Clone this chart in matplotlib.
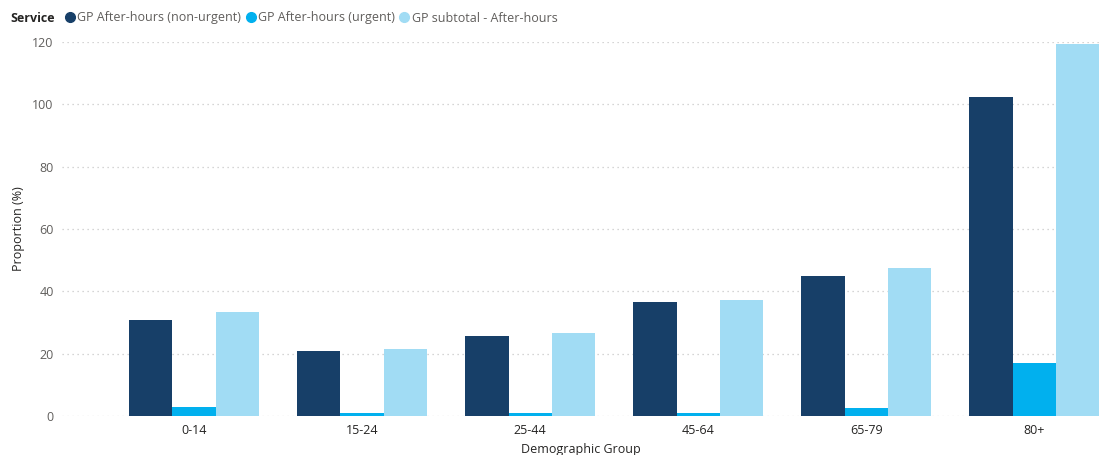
import numpy as np
import matplotlib.pyplot as plt
from matplotlib.lines import Line2D

plt.rcParams['font.family'] = ['Open Sans', 'DejaVu Sans']

groups = ['0-14', '15-24', '25-44', '45-64', '65-79', '80+']
series = ['GP After-hours (non-urgent)', 'GP After-hours (urgent)', 'GP subtotal - After-hours']
non_urgent = [30.8, 20.9, 25.7, 36.6, 44.9, 102.2]
urgent = [2.9, 1.0, 1.1, 1.1, 2.6, 17.1]
subtotal = [33.4, 21.5, 26.6, 37.2, 47.5, 119.3]
colors = ['#173F68', '#01B0EE', '#A1DCF4']

fig = plt.figure(figsize=(11.15, 4.55), dpi=100)
ax = fig.add_axes([62 / 1115, 39 / 455, (1100 - 62) / 1115, (416 - 42) / 455])

x = np.arange(len(groups))
w = 0.258
for i, (vals, c) in enumerate(zip([non_urgent, urgent, subtotal], colors)):
    ax.bar(x + (i - 1) * w, vals, width=w, color=c, label=series[i], zorder=3)

ax.set_ylim(0, 120)
ax.set_xlim(-0.786, 5.39)
ax.set_yticks(range(0, 121, 20))
ax.set_xticks(x)
ax.set_xticklabels(groups)
ax.yaxis.grid(True, linestyle=(0, (1, 3)), color='#C8C8C8', linewidth=0.9, zorder=0)
for s in ax.spines.values():
    s.set_visible(False)
ax.tick_params(length=0, labelsize=9, colors='#605E5C', pad=6)
ax.tick_params(axis='x', colors='#252423')
ax.set_ylabel('Proportion (%)', fontsize=9, color='#252423')
ax.yaxis.set_label_coords(-37 / 1038, 0.5)
ax.set_xlabel('Demographic Group', fontsize=9, color='#252423', labelpad=4)

# legend row at the top
fig.text(10 / 1115, 1 - 18 / 455, 'Service', fontsize=9, fontweight='bold',
         color='#252423', va='center')
handles = [Line2D([], [], marker='o', linestyle='', markersize=7, color=c) for c in colors]
fig.legend(handles, series, loc='center left', bbox_to_anchor=(58 / 1115, 1 - 18 / 455),
           ncol=3, frameon=False, fontsize=9, handletextpad=0.15, columnspacing=0.3,
           borderpad=0, handlelength=0.9, labelcolor='#605E5C')

fig.savefig('out.png', dpi=100)
